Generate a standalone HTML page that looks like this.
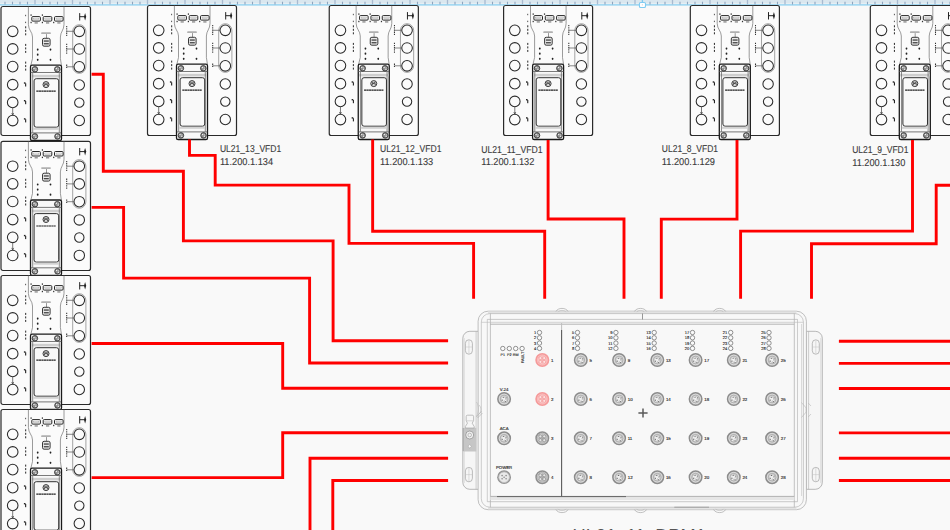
<!DOCTYPE html><html><head><meta charset="utf-8"><style>html,body{margin:0;padding:0;background:#f9f9f9;overflow:hidden}svg{display:block}text{font-family:"Liberation Sans",sans-serif}</style></head><body>
<svg width="950" height="530" viewBox="0 0 950 530">
<defs>
<g id="dev">
<path d="M26.9,0 V18 C26.9,23.5 31.0,25.5 31.0,30.5 V52 L29.4,58.6" fill="none" stroke="#666" stroke-width="0.65"/>
<path d="M62.5,0 V18 C62.5,23.5 58.9,25.5 58.9,30.5 V52 L59.9,58.6" fill="none" stroke="#666" stroke-width="0.65"/>
<rect x="30.3" y="10.1" width="8.6" height="4.5" rx="1.0" fill="#fafafa" stroke="#1a1a1a" stroke-width="0.95"/>
<rect x="31.900000000000002" y="11.7" width="5.4" height="1.3" fill="#ffffff" stroke="#9a9a9a" stroke-width="0.45"/>
<rect x="41.7" y="10.1" width="8.6" height="4.5" rx="1.0" fill="#fafafa" stroke="#1a1a1a" stroke-width="0.95"/>
<rect x="43.300000000000004" y="11.7" width="5.4" height="1.3" fill="#ffffff" stroke="#9a9a9a" stroke-width="0.45"/>
<rect x="53.0" y="10.1" width="8.6" height="4.5" rx="1.0" fill="#fafafa" stroke="#1a1a1a" stroke-width="0.95"/>
<rect x="54.6" y="11.7" width="5.4" height="1.3" fill="#ffffff" stroke="#9a9a9a" stroke-width="0.45"/>
<rect x="29.0" y="7.8999999999999995" width="1.2" height="1.4" fill="#333"/>
<rect x="29.0" y="15.3" width="1.2" height="1.4" fill="#333"/>
<rect x="40.3" y="7.8999999999999995" width="1.2" height="1.4" fill="#333"/>
<rect x="40.3" y="15.3" width="1.2" height="1.4" fill="#333"/>
<rect x="51.6" y="15.3" width="1.2" height="1.4" fill="#333"/>
<rect x="33.1" y="16.0" width="3.2" height="0.9" fill="#555"/>
<rect x="44.5" y="16.0" width="3.2" height="0.9" fill="#555"/>
<rect x="55.8" y="16.0" width="3.2" height="0.9" fill="#555"/>
<rect x="23.6" y="8.3" width="1.0" height="1.4" fill="#555"/>
<rect x="23.6" y="15.2" width="1.0" height="1.4" fill="#555"/>
<rect x="23.6" y="19.8" width="1.1" height="2.0" fill="#3a3a3a"/>
<rect x="23.6" y="23.3" width="1.1" height="2.0" fill="#3a3a3a"/>
<rect x="23.6" y="26.8" width="1.1" height="2.0" fill="#3a3a3a"/>
<rect x="23.6" y="37.4" width="1.1" height="2.0" fill="#3a3a3a"/>
<rect x="23.6" y="40.9" width="1.1" height="2.0" fill="#3a3a3a"/>
<rect x="23.6" y="44.4" width="1.1" height="2.0" fill="#3a3a3a"/>
<rect x="23.6" y="55.1" width="1.1" height="2.0" fill="#3a3a3a"/>
<rect x="23.6" y="58.6" width="1.1" height="2.0" fill="#3a3a3a"/>
<rect x="23.6" y="62.1" width="1.1" height="2.0" fill="#3a3a3a"/>
<rect x="22.4" y="75.8" width="1.6" height="1.4" fill="#222"/>
<rect x="23.6" y="76.8" width="1.1" height="3.2" fill="#222"/>
<rect x="22.4" y="93.5" width="1.6" height="1.4" fill="#222"/>
<rect x="23.6" y="94.5" width="1.1" height="3.2" fill="#222"/>
<rect x="22.4" y="111.69999999999999" width="1.6" height="1.4" fill="#222"/>
<rect x="23.6" y="112.69999999999999" width="1.1" height="3.2" fill="#222"/>
<rect x="39.6" y="25.8" width="9.8" height="1.8" rx="0.9" fill="#b0b0b0"/>
<rect x="44.5" y="27.6" width="0.6" height="4.2" fill="#555"/>
<rect x="41.0" y="31.8" width="7.6" height="7.9" rx="1.6" fill="#e8e8e8" stroke="#222" stroke-width="0.9"/>
<rect x="42.3" y="33.9" width="5.0" height="1.3" fill="#444"/>
<rect x="42.3" y="36.6" width="5.0" height="1.3" fill="#444"/>
<ellipse cx="36.2" cy="43.1" rx="0.9" ry="1.1" fill="#222"/>
<ellipse cx="36.2" cy="48.2" rx="0.9" ry="1.1" fill="#222"/>
<ellipse cx="36.2" cy="53.3" rx="0.9" ry="1.1" fill="#222"/>
<ellipse cx="49.0" cy="43.1" rx="0.9" ry="1.1" fill="#222"/>
<ellipse cx="49.0" cy="53.3" rx="0.9" ry="1.1" fill="#222"/>
<circle cx="11.2" cy="24.8" r="5.3" fill="none" stroke="#2a2a2a" stroke-width="1.05"/>
<circle cx="11.2" cy="42.4" r="5.3" fill="none" stroke="#2a2a2a" stroke-width="1.05"/>
<circle cx="11.2" cy="60.1" r="5.3" fill="none" stroke="#2a2a2a" stroke-width="1.05"/>
<circle cx="11.2" cy="78.2" r="5.3" fill="none" stroke="#2a2a2a" stroke-width="1.05"/>
<circle cx="11.2" cy="95.9" r="5.3" fill="none" stroke="#2a2a2a" stroke-width="1.05"/>
<circle cx="11.2" cy="114.1" r="5.3" fill="none" stroke="#2a2a2a" stroke-width="1.05"/>
<path d="M11.2,101.2 V108.8" stroke="#555" stroke-width="0.8"/>
<path d="M10.2,106.5 L11.2,108.6 L12.2,106.5" fill="none" stroke="#444" stroke-width="0.7"/>
<rect x="71.2" y="18.2" width="13.2" height="48.7" rx="6.6" fill="none" stroke="#9a9a9a" stroke-width="0.9"/>
<circle cx="77.8" cy="24.8" r="5.3" fill="#fbfbfb" stroke="#2a2a2a" stroke-width="1.05"/>
<circle cx="77.8" cy="42.5" r="5.3" fill="#fbfbfb" stroke="#2a2a2a" stroke-width="1.05"/>
<circle cx="77.8" cy="60.3" r="5.3" fill="#fbfbfb" stroke="#2a2a2a" stroke-width="1.05"/>
<circle cx="77.8" cy="78.5" r="5.2" fill="#fbfbfb" stroke="#2a2a2a" stroke-width="1.05"/>
<circle cx="77.8" cy="96.1" r="4.7" fill="#fbfbfb" stroke="#2a2a2a" stroke-width="1.05"/>
<circle cx="77.8" cy="114.0" r="5.2" fill="#fbfbfb" stroke="#2a2a2a" stroke-width="1.05"/>
<path d="M65.2,19.5 V30.1" fill="none" stroke="#333" stroke-width="1.05" stroke-dasharray="1.3,0.9"/>
<path d="M65.2,24.8 H72.5" fill="none" stroke="#555" stroke-width="0.7"/>
<path d="M65.2,37.2 V47.8" fill="none" stroke="#333" stroke-width="1.05" stroke-dasharray="1.3,0.9"/>
<path d="M65.2,42.5 H72.5" fill="none" stroke="#555" stroke-width="0.7"/>
<path d="M65.2,58.099999999999994 V62.5" fill="none" stroke="#333" stroke-width="1.05" stroke-dasharray="1.3,0.9"/>
<path d="M65.2,60.3 H72.5" fill="none" stroke="#555" stroke-width="0.7"/>
<path d="M78.2,6.6 V14.0 M78.2,10.2 H83.6" fill="none" stroke="#222" stroke-width="1.0"/>
<path d="M83.6,6.6 L84.7,10.2 L83.6,14.0 L82.5,10.2 Z" fill="#222"/>
<rect x="29.0" y="58.6" width="31.0" height="75.4" rx="1.6" fill="#f8f8f8" stroke="#1a1a1a" stroke-width="1.3"/>
<path d="M29.2,66.0 H59.8" stroke="#6a6a6a" stroke-width="0.9"/>
<rect x="29.8" y="68.3" width="29.4" height="2.6" fill="#cfcfcf"/>
<path d="M31.2,66.4 V126.2 M57.8,66.4 V126.2" stroke="#5a5a5a" stroke-width="0.7"/>
<rect x="32.6" y="72.2" width="24.6" height="48.5" rx="2.2" fill="#f9f9f9" stroke="#262626" stroke-width="0.95"/>
<rect x="31.6" y="121.3" width="25.8" height="2.0" fill="#d2d2d2"/>
<path d="M29.2,126.4 H59.8" stroke="#555" stroke-width="0.8"/>
<circle cx="33.4" cy="62.8" r="2.8" fill="#8c8c8c" stroke="#2a2a2a" stroke-width="0.8"/>
<circle cx="32.5" cy="61.9" r="0.75" fill="#eeeeee"/>
<circle cx="34.3" cy="63.699999999999996" r="0.75" fill="#eeeeee"/>
<circle cx="34.4" cy="62.0" r="0.5" fill="#c8c8c8"/>
<circle cx="55.8" cy="62.8" r="2.8" fill="#8c8c8c" stroke="#2a2a2a" stroke-width="0.8"/>
<circle cx="54.9" cy="61.9" r="0.75" fill="#eeeeee"/>
<circle cx="56.699999999999996" cy="63.699999999999996" r="0.75" fill="#eeeeee"/>
<circle cx="56.8" cy="62.0" r="0.5" fill="#c8c8c8"/>
<circle cx="33.4" cy="129.9" r="2.8" fill="#8c8c8c" stroke="#2a2a2a" stroke-width="0.8"/>
<circle cx="32.5" cy="129.0" r="0.75" fill="#eeeeee"/>
<circle cx="34.3" cy="130.8" r="0.75" fill="#eeeeee"/>
<circle cx="34.4" cy="129.1" r="0.5" fill="#c8c8c8"/>
<circle cx="56.0" cy="129.9" r="2.8" fill="#8c8c8c" stroke="#2a2a2a" stroke-width="0.8"/>
<circle cx="55.1" cy="129.0" r="0.75" fill="#eeeeee"/>
<circle cx="56.9" cy="130.8" r="0.75" fill="#eeeeee"/>
<circle cx="57.0" cy="129.1" r="0.5" fill="#c8c8c8"/>
<circle cx="44.5" cy="78.1" r="3.0" fill="#d5d5d5" stroke="#3a3a3a" stroke-width="1.0"/>
<path d="M42.9,79.6 L43.5,76.8 L44.5,78.5 L45.5,76.8 L46.1,79.6" fill="none" stroke="#222" stroke-width="0.7"/>
<path d="M34.8,84.6 H54.2" stroke="#222" stroke-width="1.1" stroke-dasharray="2.2,0.3"/>
</g>
</defs>
<rect width="950" height="530" fill="#f9f9f9"/>
<rect x="0" y="0" width="950" height="4.0" fill="#dae7ef"/>
<rect x="0" y="3.2" width="950" height="0.8" fill="#e9f0f4"/>
<rect x="0" y="4.0" width="950" height="1.7" fill="#a3d9f3"/>
<path d="M5.0,1.8 V4.6 M12.5,1.8 V4.6 M20.0,1.8 V4.6 M27.5,1.8 V4.6 M42.5,1.8 V4.6 M50.0,1.8 V4.6 M57.5,1.8 V4.6 M65.0,1.8 V4.6 M80.0,1.8 V4.6 M87.5,1.8 V4.6 M95.0,1.8 V4.6 M102.5,1.8 V4.6 M117.5,1.8 V4.6 M125.0,1.8 V4.6 M132.5,1.8 V4.6 M140.0,1.8 V4.6 M155.0,1.8 V4.6 M162.5,1.8 V4.6 M170.0,1.8 V4.6 M177.5,1.8 V4.6 M192.5,1.8 V4.6 M200.0,1.8 V4.6 M207.5,1.8 V4.6 M215.0,1.8 V4.6 M230.0,1.8 V4.6 M237.5,1.8 V4.6 M245.0,1.8 V4.6 M252.5,1.8 V4.6 M267.5,1.8 V4.6 M275.0,1.8 V4.6 M282.5,1.8 V4.6 M290.0,1.8 V4.6 M305.0,1.8 V4.6 M312.5,1.8 V4.6 M320.0,1.8 V4.6 M327.5,1.8 V4.6 M342.5,1.8 V4.6 M350.0,1.8 V4.6 M357.5,1.8 V4.6 M365.0,1.8 V4.6 M380.0,1.8 V4.6 M387.5,1.8 V4.6 M395.0,1.8 V4.6 M402.5,1.8 V4.6 M417.5,1.8 V4.6 M425.0,1.8 V4.6 M432.5,1.8 V4.6 M440.0,1.8 V4.6 M455.0,1.8 V4.6 M462.5,1.8 V4.6 M470.0,1.8 V4.6 M477.5,1.8 V4.6 M492.5,1.8 V4.6 M500.0,1.8 V4.6 M507.5,1.8 V4.6 M515.0,1.8 V4.6 M530.0,1.8 V4.6 M537.5,1.8 V4.6 M545.0,1.8 V4.6 M552.5,1.8 V4.6 M567.5,1.8 V4.6 M575.0,1.8 V4.6 M582.5,1.8 V4.6 M590.0,1.8 V4.6 M605.0,1.8 V4.6 M612.5,1.8 V4.6 M620.0,1.8 V4.6 M627.5,1.8 V4.6 M642.5,1.8 V4.6 M650.0,1.8 V4.6 M657.5,1.8 V4.6 M665.0,1.8 V4.6 M680.0,1.8 V4.6 M687.5,1.8 V4.6 M695.0,1.8 V4.6 M702.5,1.8 V4.6 M717.5,1.8 V4.6 M725.0,1.8 V4.6 M732.5,1.8 V4.6 M740.0,1.8 V4.6 M755.0,1.8 V4.6 M762.5,1.8 V4.6 M770.0,1.8 V4.6 M777.5,1.8 V4.6 M792.5,1.8 V4.6 M800.0,1.8 V4.6 M807.5,1.8 V4.6 M815.0,1.8 V4.6 M830.0,1.8 V4.6 M837.5,1.8 V4.6 M845.0,1.8 V4.6 M852.5,1.8 V4.6 M867.5,1.8 V4.6 M875.0,1.8 V4.6 M882.5,1.8 V4.6 M890.0,1.8 V4.6 M905.0,1.8 V4.6 M912.5,1.8 V4.6 M920.0,1.8 V4.6 M927.5,1.8 V4.6 M942.5,1.8 V4.6 M950.0,1.8 V4.6" stroke="#8ea5bf" stroke-width="1.1"/>
<path d="M35.0,0 V4.6 M72.5,0 V4.6 M110.0,0 V4.6 M147.5,0 V4.6 M185.0,0 V4.6 M222.5,0 V4.6 M260.0,0 V4.6 M297.5,0 V4.6 M335.0,0 V4.6 M372.5,0 V4.6 M410.0,0 V4.6 M447.5,0 V4.6 M485.0,0 V4.6 M522.5,0 V4.6 M560.0,0 V4.6 M597.5,0 V4.6 M635.0,0 V4.6 M672.5,0 V4.6 M710.0,0 V4.6 M747.5,0 V4.6 M785.0,0 V4.6 M822.5,0 V4.6 M860.0,0 V4.6 M897.5,0 V4.6 M935.0,0 V4.6" stroke="#a8bad0" stroke-width="1.3"/>
<path d="M642.4,0 V2.5" stroke="#7fcbf2" stroke-width="1.3"/>
<rect x="639.4" y="2.5" width="6.1" height="5.0" rx="1.3" fill="#ffffff" stroke="#7fcbf2" stroke-width="1.1"/>
<path d="M642.4,4.2 V5.4" stroke="#bbb" stroke-width="0.6"/>
<rect x="1.0" y="6.5" width="89.5" height="129.0" rx="2" fill="#fbfbfb" stroke="#2a2a2a" stroke-width="1.2"/>
<use href="#dev" x="1.5" y="6.5"/>
<rect x="1.0" y="141.4" width="89.5" height="129.1" rx="2" fill="#fbfbfb" stroke="#2a2a2a" stroke-width="1.2"/>
<use href="#dev" x="1.5" y="141.4"/>
<rect x="1.0" y="275.5" width="89.5" height="129.0" rx="2" fill="#fbfbfb" stroke="#2a2a2a" stroke-width="1.2"/>
<use href="#dev" x="1.5" y="275.5"/>
<rect x="1.0" y="409.5" width="89.5" height="129.0" rx="2" fill="#fbfbfb" stroke="#2a2a2a" stroke-width="1.2"/>
<use href="#dev" x="1.5" y="409.5"/>
<rect x="147.5" y="5.5" width="89.0" height="130.0" rx="2" fill="#fbfbfb" stroke="#2a2a2a" stroke-width="1.2"/>
<use href="#dev" x="147.5" y="5.5"/>
<rect x="329.25" y="5.5" width="89.1" height="130.0" rx="2" fill="#fbfbfb" stroke="#2a2a2a" stroke-width="1.2"/>
<use href="#dev" x="329.25" y="5.5"/>
<rect x="503.6" y="5.5" width="89.0" height="130.0" rx="2" fill="#fbfbfb" stroke="#2a2a2a" stroke-width="1.2"/>
<use href="#dev" x="503.6" y="5.5"/>
<rect x="690.3" y="5.5" width="89.1" height="130.0" rx="2" fill="#fbfbfb" stroke="#2a2a2a" stroke-width="1.2"/>
<use href="#dev" x="690.3" y="5.5"/>
<rect x="870.3" y="5.5" width="89.1" height="130.0" rx="2" fill="#fbfbfb" stroke="#2a2a2a" stroke-width="1.2"/>
<use href="#dev" x="870.3" y="5.5"/>
<text x="219.9" y="152.4" font-size="10.0" text-rendering="geometricPrecision" fill="#383838" stroke="#383838" stroke-width="0.1" textLength="61.4" lengthAdjust="spacingAndGlyphs">UL21_13_VFD1</text>
<text x="219.9" y="164.8" font-size="10.0" text-rendering="geometricPrecision" fill="#383838" stroke="#383838" stroke-width="0.1" textLength="53.2" lengthAdjust="spacingAndGlyphs">11.200.1.134</text>
<text x="380.0" y="152.4" font-size="10.0" text-rendering="geometricPrecision" fill="#383838" stroke="#383838" stroke-width="0.1" textLength="61.4" lengthAdjust="spacingAndGlyphs">UL21_12_VFD1</text>
<text x="380.0" y="164.8" font-size="10.0" text-rendering="geometricPrecision" fill="#383838" stroke="#383838" stroke-width="0.1" textLength="53.2" lengthAdjust="spacingAndGlyphs">11.200.1.133</text>
<text x="481.2" y="152.9" font-size="10.0" text-rendering="geometricPrecision" fill="#383838" stroke="#383838" stroke-width="0.1" textLength="61.4" lengthAdjust="spacingAndGlyphs">UL21_11_VFD1</text>
<text x="481.2" y="165.3" font-size="10.0" text-rendering="geometricPrecision" fill="#383838" stroke="#383838" stroke-width="0.1" textLength="53.2" lengthAdjust="spacingAndGlyphs">11.200.1.132</text>
<text x="661.8" y="152.4" font-size="10.0" text-rendering="geometricPrecision" fill="#383838" stroke="#383838" stroke-width="0.1" textLength="56.3" lengthAdjust="spacingAndGlyphs">UL21_8_VFD1</text>
<text x="661.8" y="164.8" font-size="10.0" text-rendering="geometricPrecision" fill="#383838" stroke="#383838" stroke-width="0.1" textLength="53.2" lengthAdjust="spacingAndGlyphs">11.200.1.129</text>
<text x="852.2" y="153.4" font-size="10.0" text-rendering="geometricPrecision" fill="#383838" stroke="#383838" stroke-width="0.1" textLength="56.3" lengthAdjust="spacingAndGlyphs">UL21_9_VFD1</text>
<text x="852.2" y="165.8" font-size="10.0" text-rendering="geometricPrecision" fill="#383838" stroke="#383838" stroke-width="0.1" textLength="53.2" lengthAdjust="spacingAndGlyphs">11.200.1.130</text>
<path d="M91.6,74.3 L103.3,74.3 L103.3,171.3 L183.4,171.3 L183.4,240.9 L333.1,240.9 L333.1,340.8 L448.1,340.8" fill="none" stroke="#ff0000" stroke-width="2.9" stroke-linejoin="miter"/>
<path d="M189.5,139.5 L189.5,155.4 L215.2,155.4 L215.2,185.1 L349.0,185.1 L349.0,243.4 L473.6,243.4 L473.6,298.7" fill="none" stroke="#ff0000" stroke-width="2.9" stroke-linejoin="miter"/>
<path d="M91.6,207.4 L123.6,207.4 L123.6,278.1 L309.6,278.1 L309.6,363.0 L448.1,363.0" fill="none" stroke="#ff0000" stroke-width="2.9" stroke-linejoin="miter"/>
<path d="M372.65,139.5 L372.65,231.3 L544.7,231.3 L544.7,298.7" fill="none" stroke="#ff0000" stroke-width="2.9" stroke-linejoin="miter"/>
<path d="M548.1,140 L548.1,219.0 L624.0,219.0 L624.0,298.7" fill="none" stroke="#ff0000" stroke-width="2.9" stroke-linejoin="miter"/>
<path d="M737.0,140 L737.0,219.1 L661.3,219.1 L661.3,298.7" fill="none" stroke="#ff0000" stroke-width="2.9" stroke-linejoin="miter"/>
<path d="M912.5,140 L912.5,231.1 L740.6,231.1 L740.6,298.7" fill="none" stroke="#ff0000" stroke-width="2.9" stroke-linejoin="miter"/>
<path d="M951,185.3 L936.2,185.3 L936.2,243.8 L811.5,243.8 L811.5,298.7" fill="none" stroke="#ff0000" stroke-width="2.9" stroke-linejoin="miter"/>
<path d="M91.6,343.5 L282.7,343.5 L282.7,388.3 L448.1,388.3" fill="none" stroke="#ff0000" stroke-width="2.9" stroke-linejoin="miter"/>
<path d="M91.6,477.6 L282.7,477.6 L282.7,432.7 L448.1,432.7" fill="none" stroke="#ff0000" stroke-width="2.9" stroke-linejoin="miter"/>
<path d="M310.0,531 L310.0,458.2 L448.1,458.2" fill="none" stroke="#ff0000" stroke-width="2.9" stroke-linejoin="miter"/>
<path d="M332.8,531 L332.8,480.5 L448.1,480.5" fill="none" stroke="#ff0000" stroke-width="2.9" stroke-linejoin="miter"/>
<path d="M838.9,341.2 L951,341.2" fill="none" stroke="#ff0000" stroke-width="2.9" stroke-linejoin="miter"/>
<path d="M838.9,363.4 L951,363.4" fill="none" stroke="#ff0000" stroke-width="2.9" stroke-linejoin="miter"/>
<path d="M838.9,388.5 L951,388.5" fill="none" stroke="#ff0000" stroke-width="2.9" stroke-linejoin="miter"/>
<path d="M838.9,432.9 L951,432.9" fill="none" stroke="#ff0000" stroke-width="2.9" stroke-linejoin="miter"/>
<path d="M838.9,458.3 L951,458.3" fill="none" stroke="#ff0000" stroke-width="2.9" stroke-linejoin="miter"/>
<path d="M838.9,480.5 L951,480.5" fill="none" stroke="#ff0000" stroke-width="2.9" stroke-linejoin="miter"/>
<path d="M478.5,331.3 H469.8 A7,7 0 0 0 462.8,338.3 V482.3 A7,7 0 0 0 469.8,489.3 H478.5 Z" fill="#f6f6f6" stroke="#a0a0a0" stroke-width="0.75"/>
<path d="M464.2,338 V483" fill="none" stroke="#c8c8c8" stroke-width="0.6"/>
<path d="M476.1,331.3 V489.3" fill="none" stroke="#b0b0b0" stroke-width="0.6"/>
<path d="M806.2,331.3 H815.3 A7,7 0 0 1 822.3,338.3 V482.3 A7,7 0 0 1 815.3,489.3 H806.2 Z" fill="#f6f6f6" stroke="#a0a0a0" stroke-width="0.75"/>
<path d="M820.8,338 V483" fill="none" stroke="#c8c8c8" stroke-width="0.6"/>
<path d="M808.6,331.3 V489.3" fill="none" stroke="#b0b0b0" stroke-width="0.6"/>
<rect x="465.4" y="339.8" width="7" height="14.4" rx="3.5" fill="none" stroke="#a0a0a0" stroke-width="0.7"/>
<path d="M465.59999999999997,347.0 H472.2 M468.9,340.5 V353.5" fill="none" stroke="#c0c0c0" stroke-width="0.5"/>
<rect x="465.4" y="467.40000000000003" width="7" height="14.4" rx="3.5" fill="none" stroke="#a0a0a0" stroke-width="0.7"/>
<path d="M465.59999999999997,474.6 H472.2 M468.9,468.1 V481.1" fill="none" stroke="#c0c0c0" stroke-width="0.5"/>
<rect x="812.3" y="339.8" width="7" height="14.4" rx="3.5" fill="none" stroke="#a0a0a0" stroke-width="0.7"/>
<path d="M812.5,347.0 H819.0999999999999 M815.8,340.5 V353.5" fill="none" stroke="#c0c0c0" stroke-width="0.5"/>
<rect x="812.3" y="467.40000000000003" width="7" height="14.4" rx="3.5" fill="none" stroke="#a0a0a0" stroke-width="0.7"/>
<path d="M812.5,474.6 H819.0999999999999 M815.8,468.1 V481.1" fill="none" stroke="#c0c0c0" stroke-width="0.5"/>
<path d="M488.1,311.2 H796.4 A10,10 0 0 1 806.4,321.2 V499.7 A10,10 0 0 1 796.4,509.7 H488.1 A10,10 0 0 1 478.1,499.7 V321.2 A10,10 0 0 1 488.1,311.2 Z" fill="#f8f8f8" stroke="#b0b0b0" stroke-width="0.8"/>
<rect x="488" y="311.5" width="308.5" height="2.1" fill="#e2e2e2"/>
<rect x="488" y="507.2" width="308.5" height="2.1" fill="#e4e4e4"/>
<path d="M489.8,313.6 H794.9 A8.5,8.5 0 0 1 803.4,322.1 V498.7 A8.5,8.5 0 0 1 794.9,507.2 H489.8 A8.5,8.5 0 0 1 481.3,498.7 V322.1 A8.5,8.5 0 0 1 489.8,313.6 Z" fill="none" stroke="#b8b8b8" stroke-width="0.7"/>
<path d="M490.4,313.6 V507.2 M794.3,313.6 V507.2" fill="none" stroke="#a6a6a6" stroke-width="0.65"/>
<path d="M487.3,319.3 V501.7 M797.5,319.3 V501.7" fill="none" stroke="#b0b0b0" stroke-width="0.6"/>
<path d="M487.3,319.4 H797.5 M487.3,501.7 H797.5" fill="none" stroke="#b0b0b0" stroke-width="0.65"/>
<path d="M481.3,322.3 H803.4" fill="none" stroke="#b8b8b8" stroke-width="0.6"/>
<rect x="490.4" y="496.4" width="303.9" height="3.6" fill="#e6e6e6"/>
<path d="M490.4,324.2 H794.3 M490.4,496.4 H794.3" fill="none" stroke="#9a9a9a" stroke-width="0.7"/>
<path d="M801.6,324 V496" fill="none" stroke="#c0c0c0" stroke-width="0.6"/>
<path d="M801.5,402.5 L806.2,408 V412 L801.5,417.5 M808.2,403 L811,406 M808.2,417 L811,414" fill="none" stroke="#b5b5b5" stroke-width="0.6"/>
<path d="M497,496.6 H626" fill="none" stroke="#5a5a5a" stroke-width="0.9"/>
<path d="M674.3,507.2 H709" fill="none" stroke="#8a8a8a" stroke-width="0.7"/>
<path d="M642.5,313.6 V319.4" fill="none" stroke="#555" stroke-width="0.6"/>
<path d="M556.0,311.4 C558.0,307.4 566.0,307.4 568.0,311.4" fill="none" stroke="#9a9a9a" stroke-width="0.6"/>
<path d="M558.0,312.2 C559.5,309.8 564.5,309.8 566.0,312.2" fill="none" stroke="#b0b0b0" stroke-width="0.5"/>
<path d="M556.0,509.6 C558.0,513.6 566.0,513.6 568.0,509.6" fill="none" stroke="#9a9a9a" stroke-width="0.6"/>
<path d="M558.0,508.8 C559.5,511.2 564.5,511.2 566.0,508.8" fill="none" stroke="#b0b0b0" stroke-width="0.5"/>
<path d="M634.5,311.4 C636.5,307.4 644.5,307.4 646.5,311.4" fill="none" stroke="#9a9a9a" stroke-width="0.6"/>
<path d="M636.5,312.2 C638.0,309.8 643.0,309.8 644.5,312.2" fill="none" stroke="#b0b0b0" stroke-width="0.5"/>
<path d="M634.5,509.6 C636.5,513.6 644.5,513.6 646.5,509.6" fill="none" stroke="#9a9a9a" stroke-width="0.6"/>
<path d="M636.5,508.8 C638.0,511.2 643.0,511.2 644.5,508.8" fill="none" stroke="#b0b0b0" stroke-width="0.5"/>
<path d="M713.6,311.4 C715.6,307.4 723.6,307.4 725.6,311.4" fill="none" stroke="#9a9a9a" stroke-width="0.6"/>
<path d="M715.6,312.2 C717.1,309.8 722.1,309.8 723.6,312.2" fill="none" stroke="#b0b0b0" stroke-width="0.5"/>
<path d="M713.6,509.6 C715.6,513.6 723.6,513.6 725.6,509.6" fill="none" stroke="#9a9a9a" stroke-width="0.6"/>
<path d="M715.6,508.8 C717.1,511.2 722.1,511.2 723.6,508.8" fill="none" stroke="#b0b0b0" stroke-width="0.5"/>
<path d="M561.6,323 V330" fill="none" stroke="#bdbdbd" stroke-width="1.0"/>
<path d="M561.6,330 V496.2" fill="none" stroke="#5a5a5a" stroke-width="1.1"/>
<rect x="462.6" y="427.9" width="13.7" height="23.6" fill="#c6c6c6"/>
<path d="M463.2,428 V451" fill="none" stroke="#999" stroke-width="0.6"/>
<path d="M466.2,416.5 Q466.2,415.2 467.5,415.2 H472.3 Q473.6,415.2 473.6,416.5 V420.5 L472.2,423.2 L474.2,426.5 V428 H465.4 V426.5 L467.4,423.2 L466.2,420.5 Z" fill="#f6f6f6" stroke="#9a9a9a" stroke-width="0.6"/>
<path d="M466.4,420.8 H473.4" fill="none" stroke="#b5b5b5" stroke-width="0.5"/>
<circle cx="469.7" cy="435" r="4.0" fill="#f0f0f0" stroke="#8a8a8a" stroke-width="0.7"/>
<circle cx="469.7" cy="435" r="1.8" fill="none" stroke="#9a9a9a" stroke-width="0.6"/>
<path d="M469.7,444.6 L471.5,446.3 L469.7,448 L467.9,446.3 Z" fill="#fafafa" stroke="#999" stroke-width="0.5"/>
<path d="M476.3,417 L481.5,411.5 M477.5,418 L482.5,413" fill="none" stroke="#aaa" stroke-width="0.6"/>
<path d="M476.5,402 C479,405 479,413 476.5,416 M479,405 C481.5,407 481.5,412 479,414" fill="none" stroke="#b8b8b8" stroke-width="0.6"/>
<circle cx="539.5" cy="332.5" r="2.2" fill="#fafafa" stroke="#5a5a5a" stroke-width="0.65"/>
<text x="536.2" y="334.0" font-size="4.1" fill="#222" stroke="#222" stroke-width="0.12" text-anchor="end" text-rendering="geometricPrecision">1</text>
<circle cx="539.5" cy="337.8" r="2.2" fill="#fafafa" stroke="#5a5a5a" stroke-width="0.65"/>
<text x="536.2" y="339.3" font-size="4.1" fill="#222" stroke="#222" stroke-width="0.12" text-anchor="end" text-rendering="geometricPrecision">2</text>
<circle cx="539.5" cy="343.1" r="2.2" fill="#fafafa" stroke="#5a5a5a" stroke-width="0.65"/>
<text x="536.2" y="344.6" font-size="4.1" fill="#222" stroke="#222" stroke-width="0.12" text-anchor="end" text-rendering="geometricPrecision">3</text>
<circle cx="539.5" cy="348.4" r="2.2" fill="#fafafa" stroke="#5a5a5a" stroke-width="0.65"/>
<text x="536.2" y="349.9" font-size="4.1" fill="#222" stroke="#222" stroke-width="0.12" text-anchor="end" text-rendering="geometricPrecision">4</text>
<circle cx="577.5" cy="332.5" r="2.2" fill="#fafafa" stroke="#5a5a5a" stroke-width="0.65"/>
<text x="574.2" y="334.0" font-size="4.1" fill="#222" stroke="#222" stroke-width="0.12" text-anchor="end" text-rendering="geometricPrecision">5</text>
<circle cx="577.5" cy="337.8" r="2.2" fill="#fafafa" stroke="#5a5a5a" stroke-width="0.65"/>
<text x="574.2" y="339.3" font-size="4.1" fill="#222" stroke="#222" stroke-width="0.12" text-anchor="end" text-rendering="geometricPrecision">6</text>
<circle cx="577.5" cy="343.1" r="2.2" fill="#fafafa" stroke="#5a5a5a" stroke-width="0.65"/>
<text x="574.2" y="344.6" font-size="4.1" fill="#222" stroke="#222" stroke-width="0.12" text-anchor="end" text-rendering="geometricPrecision">7</text>
<circle cx="577.5" cy="348.4" r="2.2" fill="#fafafa" stroke="#5a5a5a" stroke-width="0.65"/>
<text x="574.2" y="349.9" font-size="4.1" fill="#222" stroke="#222" stroke-width="0.12" text-anchor="end" text-rendering="geometricPrecision">8</text>
<circle cx="615.9" cy="332.5" r="2.2" fill="#fafafa" stroke="#5a5a5a" stroke-width="0.65"/>
<text x="612.6" y="334.0" font-size="4.1" fill="#222" stroke="#222" stroke-width="0.12" text-anchor="end" text-rendering="geometricPrecision">9</text>
<circle cx="615.9" cy="337.8" r="2.2" fill="#fafafa" stroke="#5a5a5a" stroke-width="0.65"/>
<text x="612.6" y="339.3" font-size="4.1" fill="#222" stroke="#222" stroke-width="0.12" text-anchor="end" text-rendering="geometricPrecision">10</text>
<circle cx="615.9" cy="343.1" r="2.2" fill="#fafafa" stroke="#5a5a5a" stroke-width="0.65"/>
<text x="612.6" y="344.6" font-size="4.1" fill="#222" stroke="#222" stroke-width="0.12" text-anchor="end" text-rendering="geometricPrecision">11</text>
<circle cx="615.9" cy="348.4" r="2.2" fill="#fafafa" stroke="#5a5a5a" stroke-width="0.65"/>
<text x="612.6" y="349.9" font-size="4.1" fill="#222" stroke="#222" stroke-width="0.12" text-anchor="end" text-rendering="geometricPrecision">12</text>
<circle cx="654.2" cy="332.5" r="2.2" fill="#fafafa" stroke="#5a5a5a" stroke-width="0.65"/>
<text x="650.9000000000001" y="334.0" font-size="4.1" fill="#222" stroke="#222" stroke-width="0.12" text-anchor="end" text-rendering="geometricPrecision">13</text>
<circle cx="654.2" cy="337.8" r="2.2" fill="#fafafa" stroke="#5a5a5a" stroke-width="0.65"/>
<text x="650.9000000000001" y="339.3" font-size="4.1" fill="#222" stroke="#222" stroke-width="0.12" text-anchor="end" text-rendering="geometricPrecision">14</text>
<circle cx="654.2" cy="343.1" r="2.2" fill="#fafafa" stroke="#5a5a5a" stroke-width="0.65"/>
<text x="650.9000000000001" y="344.6" font-size="4.1" fill="#222" stroke="#222" stroke-width="0.12" text-anchor="end" text-rendering="geometricPrecision">15</text>
<circle cx="654.2" cy="348.4" r="2.2" fill="#fafafa" stroke="#5a5a5a" stroke-width="0.65"/>
<text x="650.9000000000001" y="349.9" font-size="4.1" fill="#222" stroke="#222" stroke-width="0.12" text-anchor="end" text-rendering="geometricPrecision">16</text>
<circle cx="692.5" cy="332.5" r="2.2" fill="#fafafa" stroke="#5a5a5a" stroke-width="0.65"/>
<text x="689.2" y="334.0" font-size="4.1" fill="#222" stroke="#222" stroke-width="0.12" text-anchor="end" text-rendering="geometricPrecision">17</text>
<circle cx="692.5" cy="337.8" r="2.2" fill="#fafafa" stroke="#5a5a5a" stroke-width="0.65"/>
<text x="689.2" y="339.3" font-size="4.1" fill="#222" stroke="#222" stroke-width="0.12" text-anchor="end" text-rendering="geometricPrecision">18</text>
<circle cx="692.5" cy="343.1" r="2.2" fill="#fafafa" stroke="#5a5a5a" stroke-width="0.65"/>
<text x="689.2" y="344.6" font-size="4.1" fill="#222" stroke="#222" stroke-width="0.12" text-anchor="end" text-rendering="geometricPrecision">19</text>
<circle cx="692.5" cy="348.4" r="2.2" fill="#fafafa" stroke="#5a5a5a" stroke-width="0.65"/>
<text x="689.2" y="349.9" font-size="4.1" fill="#222" stroke="#222" stroke-width="0.12" text-anchor="end" text-rendering="geometricPrecision">20</text>
<circle cx="730.7" cy="332.5" r="2.2" fill="#fafafa" stroke="#5a5a5a" stroke-width="0.65"/>
<text x="727.4000000000001" y="334.0" font-size="4.1" fill="#222" stroke="#222" stroke-width="0.12" text-anchor="end" text-rendering="geometricPrecision">21</text>
<circle cx="730.7" cy="337.8" r="2.2" fill="#fafafa" stroke="#5a5a5a" stroke-width="0.65"/>
<text x="727.4000000000001" y="339.3" font-size="4.1" fill="#222" stroke="#222" stroke-width="0.12" text-anchor="end" text-rendering="geometricPrecision">22</text>
<circle cx="730.7" cy="343.1" r="2.2" fill="#fafafa" stroke="#5a5a5a" stroke-width="0.65"/>
<text x="727.4000000000001" y="344.6" font-size="4.1" fill="#222" stroke="#222" stroke-width="0.12" text-anchor="end" text-rendering="geometricPrecision">23</text>
<circle cx="730.7" cy="348.4" r="2.2" fill="#fafafa" stroke="#5a5a5a" stroke-width="0.65"/>
<text x="727.4000000000001" y="349.9" font-size="4.1" fill="#222" stroke="#222" stroke-width="0.12" text-anchor="end" text-rendering="geometricPrecision">24</text>
<circle cx="769.0" cy="332.5" r="2.2" fill="#fafafa" stroke="#5a5a5a" stroke-width="0.65"/>
<text x="765.7" y="334.0" font-size="4.1" fill="#222" stroke="#222" stroke-width="0.12" text-anchor="end" text-rendering="geometricPrecision">25</text>
<circle cx="769.0" cy="337.8" r="2.2" fill="#fafafa" stroke="#5a5a5a" stroke-width="0.65"/>
<text x="765.7" y="339.3" font-size="4.1" fill="#222" stroke="#222" stroke-width="0.12" text-anchor="end" text-rendering="geometricPrecision">26</text>
<circle cx="769.0" cy="343.1" r="2.2" fill="#fafafa" stroke="#5a5a5a" stroke-width="0.65"/>
<text x="765.7" y="344.6" font-size="4.1" fill="#222" stroke="#222" stroke-width="0.12" text-anchor="end" text-rendering="geometricPrecision">27</text>
<circle cx="769.0" cy="348.4" r="2.2" fill="#fafafa" stroke="#5a5a5a" stroke-width="0.65"/>
<text x="765.7" y="349.9" font-size="4.1" fill="#222" stroke="#222" stroke-width="0.12" text-anchor="end" text-rendering="geometricPrecision">28</text>
<circle cx="502.8" cy="348.5" r="2.2" fill="#fafafa" stroke="#5a5a5a" stroke-width="0.65"/>
<text x="502.8" y="356.2" font-size="3.7" fill="#222" stroke="#222" stroke-width="0.12" text-anchor="middle" text-rendering="geometricPrecision">P1</text>
<circle cx="509.3" cy="348.5" r="2.2" fill="#fafafa" stroke="#5a5a5a" stroke-width="0.65"/>
<text x="509.3" y="356.2" font-size="3.7" fill="#222" stroke="#222" stroke-width="0.12" text-anchor="middle" text-rendering="geometricPrecision">P2</text>
<circle cx="515.7" cy="348.5" r="2.2" fill="#fafafa" stroke="#5a5a5a" stroke-width="0.65"/>
<text x="515.7" y="356.2" font-size="3.7" fill="#222" stroke="#222" stroke-width="0.12" text-anchor="middle" text-rendering="geometricPrecision">RM</text>
<circle cx="522.1" cy="348.5" r="2.2" fill="#fafafa" stroke="#5a5a5a" stroke-width="0.65"/>
<text x="0" y="0" font-size="3.9" fill="#222" stroke="#222" stroke-width="0.12" text-anchor="start" text-rendering="geometricPrecision" transform="translate(523.6,363.2) rotate(-90)">FAULT</text>
<circle cx="542.3" cy="360.0" r="6.25" fill="#fbc4c4" stroke="#f59a9a" stroke-width="1.6"/>
<circle cx="542.3" cy="360.0" r="4.6" fill="#fcd4d4" stroke="#f6a6a6" stroke-width="0.6"/>
<circle cx="540.4" cy="358.1" r="1.5" fill="#fde2e2" stroke="#f08888" stroke-width="0.55"/>
<circle cx="544.1999999999999" cy="358.1" r="1.5" fill="#fde2e2" stroke="#f08888" stroke-width="0.55"/>
<circle cx="540.4" cy="361.9" r="1.5" fill="#fde2e2" stroke="#f08888" stroke-width="0.55"/>
<circle cx="544.1999999999999" cy="361.9" r="1.5" fill="#fde2e2" stroke="#f08888" stroke-width="0.55"/>
<path d="M538.3,360.0 H546.3 M542.3,356.0 V364.0" stroke="#f4a0a0" stroke-width="0.55"/>
<text x="550.9" y="361.6" font-size="4.4" fill="#222" stroke="#222" stroke-width="0.12" text-rendering="geometricPrecision">1</text>
<circle cx="542.3" cy="399.0" r="6.25" fill="#fbc4c4" stroke="#f59a9a" stroke-width="1.6"/>
<circle cx="542.3" cy="399.0" r="4.6" fill="#fcd4d4" stroke="#f6a6a6" stroke-width="0.6"/>
<circle cx="540.4" cy="397.1" r="1.5" fill="#fde2e2" stroke="#f08888" stroke-width="0.55"/>
<circle cx="544.1999999999999" cy="397.1" r="1.5" fill="#fde2e2" stroke="#f08888" stroke-width="0.55"/>
<circle cx="540.4" cy="400.9" r="1.5" fill="#fde2e2" stroke="#f08888" stroke-width="0.55"/>
<circle cx="544.1999999999999" cy="400.9" r="1.5" fill="#fde2e2" stroke="#f08888" stroke-width="0.55"/>
<path d="M538.3,399.0 H546.3 M542.3,395.0 V403.0" stroke="#f4a0a0" stroke-width="0.55"/>
<text x="550.9" y="400.6" font-size="4.4" fill="#222" stroke="#222" stroke-width="0.12" text-rendering="geometricPrecision">2</text>
<circle cx="542.3" cy="438.3" r="6.25" fill="#d8d8d8" stroke="#8f8f8f" stroke-width="1.5"/>
<circle cx="542.3" cy="438.3" r="4.7" fill="#e2e2e2" stroke="#a0a0a0" stroke-width="0.7"/>
<circle cx="540.4" cy="436.40000000000003" r="1.5" fill="#e6e6e6" stroke="#777" stroke-width="0.55"/>
<circle cx="544.1999999999999" cy="436.40000000000003" r="1.5" fill="#e6e6e6" stroke="#777" stroke-width="0.55"/>
<circle cx="540.4" cy="440.2" r="1.5" fill="#e6e6e6" stroke="#777" stroke-width="0.55"/>
<circle cx="544.1999999999999" cy="440.2" r="1.5" fill="#e6e6e6" stroke="#777" stroke-width="0.55"/>
<path d="M538.0999999999999,438.3 H546.5 M542.3,434.1 V442.5" stroke="#8a8a8a" stroke-width="0.55"/>
<text x="550.9" y="439.90000000000003" font-size="4.4" fill="#222" stroke="#222" stroke-width="0.12" text-rendering="geometricPrecision">3</text>
<circle cx="542.3" cy="477.2" r="6.25" fill="#d8d8d8" stroke="#8f8f8f" stroke-width="1.5"/>
<circle cx="542.3" cy="477.2" r="4.7" fill="#e2e2e2" stroke="#a0a0a0" stroke-width="0.7"/>
<circle cx="540.4" cy="475.3" r="1.5" fill="#e6e6e6" stroke="#777" stroke-width="0.55"/>
<circle cx="544.1999999999999" cy="475.3" r="1.5" fill="#e6e6e6" stroke="#777" stroke-width="0.55"/>
<circle cx="540.4" cy="479.09999999999997" r="1.5" fill="#e6e6e6" stroke="#777" stroke-width="0.55"/>
<circle cx="544.1999999999999" cy="479.09999999999997" r="1.5" fill="#e6e6e6" stroke="#777" stroke-width="0.55"/>
<path d="M538.0999999999999,477.2 H546.5 M542.3,473.0 V481.4" stroke="#8a8a8a" stroke-width="0.55"/>
<text x="550.9" y="478.8" font-size="4.4" fill="#222" stroke="#222" stroke-width="0.12" text-rendering="geometricPrecision">4</text>
<circle cx="580.8" cy="360.0" r="6.25" fill="#d0d0d0" stroke="#8c8c8c" stroke-width="1.5"/>
<circle cx="580.8" cy="360.0" r="4.75" fill="#c9c9c9" stroke="#e4e4e4" stroke-width="0.6"/>
<circle cx="580.8" cy="360.0" r="3.9" fill="#cdcdcd" stroke="#a0a0a0" stroke-width="0.6"/>
<path d="M578.1999999999999,359.0 L580.5999999999999,360.2 L582.5999999999999,357.8 M580.5999999999999,360.2 L579.3,362.7 M580.5999999999999,360.2 L583.0,362.0 M580.5999999999999,360.2 L579.8,357.4" fill="none" stroke="#f4f4f4" stroke-width="1.0"/>
<circle cx="582.6999999999999" cy="358.8" r="0.55" fill="#6a6a6a"/>
<circle cx="578.9" cy="361.3" r="0.55" fill="#6a6a6a"/>
<circle cx="582.0999999999999" cy="362.5" r="0.55" fill="#6a6a6a"/>
<circle cx="580.1999999999999" cy="358.2" r="0.55" fill="#6a6a6a"/>
<text x="589.4" y="361.6" font-size="4.4" fill="#222" stroke="#222" stroke-width="0.12" text-rendering="geometricPrecision">5</text>
<circle cx="580.8" cy="399.0" r="6.25" fill="#d0d0d0" stroke="#8c8c8c" stroke-width="1.5"/>
<circle cx="580.8" cy="399.0" r="4.75" fill="#c9c9c9" stroke="#e4e4e4" stroke-width="0.6"/>
<circle cx="580.8" cy="399.0" r="3.9" fill="#cdcdcd" stroke="#a0a0a0" stroke-width="0.6"/>
<path d="M578.1999999999999,398.0 L580.5999999999999,399.2 L582.5999999999999,396.8 M580.5999999999999,399.2 L579.3,401.7 M580.5999999999999,399.2 L583.0,401.0 M580.5999999999999,399.2 L579.8,396.4" fill="none" stroke="#f4f4f4" stroke-width="1.0"/>
<circle cx="582.6999999999999" cy="397.8" r="0.55" fill="#6a6a6a"/>
<circle cx="578.9" cy="400.3" r="0.55" fill="#6a6a6a"/>
<circle cx="582.0999999999999" cy="401.5" r="0.55" fill="#6a6a6a"/>
<circle cx="580.1999999999999" cy="397.2" r="0.55" fill="#6a6a6a"/>
<text x="589.4" y="400.6" font-size="4.4" fill="#222" stroke="#222" stroke-width="0.12" text-rendering="geometricPrecision">6</text>
<circle cx="580.8" cy="438.3" r="6.25" fill="#d0d0d0" stroke="#8c8c8c" stroke-width="1.5"/>
<circle cx="580.8" cy="438.3" r="4.75" fill="#c9c9c9" stroke="#e4e4e4" stroke-width="0.6"/>
<circle cx="580.8" cy="438.3" r="3.9" fill="#cdcdcd" stroke="#a0a0a0" stroke-width="0.6"/>
<path d="M578.1999999999999,437.3 L580.5999999999999,438.5 L582.5999999999999,436.1 M580.5999999999999,438.5 L579.3,441.0 M580.5999999999999,438.5 L583.0,440.3 M580.5999999999999,438.5 L579.8,435.7" fill="none" stroke="#f4f4f4" stroke-width="1.0"/>
<circle cx="582.6999999999999" cy="437.1" r="0.55" fill="#6a6a6a"/>
<circle cx="578.9" cy="439.6" r="0.55" fill="#6a6a6a"/>
<circle cx="582.0999999999999" cy="440.8" r="0.55" fill="#6a6a6a"/>
<circle cx="580.1999999999999" cy="436.5" r="0.55" fill="#6a6a6a"/>
<text x="589.4" y="439.90000000000003" font-size="4.4" fill="#222" stroke="#222" stroke-width="0.12" text-rendering="geometricPrecision">7</text>
<circle cx="580.8" cy="477.2" r="6.25" fill="#d0d0d0" stroke="#8c8c8c" stroke-width="1.5"/>
<circle cx="580.8" cy="477.2" r="4.75" fill="#c9c9c9" stroke="#e4e4e4" stroke-width="0.6"/>
<circle cx="580.8" cy="477.2" r="3.9" fill="#cdcdcd" stroke="#a0a0a0" stroke-width="0.6"/>
<path d="M578.1999999999999,476.2 L580.5999999999999,477.4 L582.5999999999999,475.0 M580.5999999999999,477.4 L579.3,479.9 M580.5999999999999,477.4 L583.0,479.2 M580.5999999999999,477.4 L579.8,474.59999999999997" fill="none" stroke="#f4f4f4" stroke-width="1.0"/>
<circle cx="582.6999999999999" cy="476.0" r="0.55" fill="#6a6a6a"/>
<circle cx="578.9" cy="478.5" r="0.55" fill="#6a6a6a"/>
<circle cx="582.0999999999999" cy="479.7" r="0.55" fill="#6a6a6a"/>
<circle cx="580.1999999999999" cy="475.4" r="0.55" fill="#6a6a6a"/>
<text x="589.4" y="478.8" font-size="4.4" fill="#222" stroke="#222" stroke-width="0.12" text-rendering="geometricPrecision">8</text>
<circle cx="619.1" cy="360.0" r="6.25" fill="#d0d0d0" stroke="#8c8c8c" stroke-width="1.5"/>
<circle cx="619.1" cy="360.0" r="4.75" fill="#c9c9c9" stroke="#e4e4e4" stroke-width="0.6"/>
<circle cx="619.1" cy="360.0" r="3.9" fill="#cdcdcd" stroke="#a0a0a0" stroke-width="0.6"/>
<path d="M616.5,359.0 L618.9,360.2 L620.9,357.8 M618.9,360.2 L617.6,362.7 M618.9,360.2 L621.3000000000001,362.0 M618.9,360.2 L618.1,357.4" fill="none" stroke="#f4f4f4" stroke-width="1.0"/>
<circle cx="621.0" cy="358.8" r="0.55" fill="#6a6a6a"/>
<circle cx="617.2" cy="361.3" r="0.55" fill="#6a6a6a"/>
<circle cx="620.4" cy="362.5" r="0.55" fill="#6a6a6a"/>
<circle cx="618.5" cy="358.2" r="0.55" fill="#6a6a6a"/>
<text x="627.7" y="361.6" font-size="4.4" fill="#222" stroke="#222" stroke-width="0.12" text-rendering="geometricPrecision">9</text>
<circle cx="619.1" cy="399.0" r="6.25" fill="#d0d0d0" stroke="#8c8c8c" stroke-width="1.5"/>
<circle cx="619.1" cy="399.0" r="4.75" fill="#c9c9c9" stroke="#e4e4e4" stroke-width="0.6"/>
<circle cx="619.1" cy="399.0" r="3.9" fill="#cdcdcd" stroke="#a0a0a0" stroke-width="0.6"/>
<path d="M616.5,398.0 L618.9,399.2 L620.9,396.8 M618.9,399.2 L617.6,401.7 M618.9,399.2 L621.3000000000001,401.0 M618.9,399.2 L618.1,396.4" fill="none" stroke="#f4f4f4" stroke-width="1.0"/>
<circle cx="621.0" cy="397.8" r="0.55" fill="#6a6a6a"/>
<circle cx="617.2" cy="400.3" r="0.55" fill="#6a6a6a"/>
<circle cx="620.4" cy="401.5" r="0.55" fill="#6a6a6a"/>
<circle cx="618.5" cy="397.2" r="0.55" fill="#6a6a6a"/>
<text x="627.7" y="400.6" font-size="4.4" fill="#222" stroke="#222" stroke-width="0.12" text-rendering="geometricPrecision">10</text>
<circle cx="619.1" cy="438.3" r="6.25" fill="#d0d0d0" stroke="#8c8c8c" stroke-width="1.5"/>
<circle cx="619.1" cy="438.3" r="4.75" fill="#c9c9c9" stroke="#e4e4e4" stroke-width="0.6"/>
<circle cx="619.1" cy="438.3" r="3.9" fill="#cdcdcd" stroke="#a0a0a0" stroke-width="0.6"/>
<path d="M616.5,437.3 L618.9,438.5 L620.9,436.1 M618.9,438.5 L617.6,441.0 M618.9,438.5 L621.3000000000001,440.3 M618.9,438.5 L618.1,435.7" fill="none" stroke="#f4f4f4" stroke-width="1.0"/>
<circle cx="621.0" cy="437.1" r="0.55" fill="#6a6a6a"/>
<circle cx="617.2" cy="439.6" r="0.55" fill="#6a6a6a"/>
<circle cx="620.4" cy="440.8" r="0.55" fill="#6a6a6a"/>
<circle cx="618.5" cy="436.5" r="0.55" fill="#6a6a6a"/>
<text x="627.7" y="439.90000000000003" font-size="4.4" fill="#222" stroke="#222" stroke-width="0.12" text-rendering="geometricPrecision">11</text>
<circle cx="619.1" cy="477.2" r="6.25" fill="#d0d0d0" stroke="#8c8c8c" stroke-width="1.5"/>
<circle cx="619.1" cy="477.2" r="4.75" fill="#c9c9c9" stroke="#e4e4e4" stroke-width="0.6"/>
<circle cx="619.1" cy="477.2" r="3.9" fill="#cdcdcd" stroke="#a0a0a0" stroke-width="0.6"/>
<path d="M616.5,476.2 L618.9,477.4 L620.9,475.0 M618.9,477.4 L617.6,479.9 M618.9,477.4 L621.3000000000001,479.2 M618.9,477.4 L618.1,474.59999999999997" fill="none" stroke="#f4f4f4" stroke-width="1.0"/>
<circle cx="621.0" cy="476.0" r="0.55" fill="#6a6a6a"/>
<circle cx="617.2" cy="478.5" r="0.55" fill="#6a6a6a"/>
<circle cx="620.4" cy="479.7" r="0.55" fill="#6a6a6a"/>
<circle cx="618.5" cy="475.4" r="0.55" fill="#6a6a6a"/>
<text x="627.7" y="478.8" font-size="4.4" fill="#222" stroke="#222" stroke-width="0.12" text-rendering="geometricPrecision">12</text>
<circle cx="657.3" cy="360.0" r="6.25" fill="#d0d0d0" stroke="#8c8c8c" stroke-width="1.5"/>
<circle cx="657.3" cy="360.0" r="4.75" fill="#c9c9c9" stroke="#e4e4e4" stroke-width="0.6"/>
<circle cx="657.3" cy="360.0" r="3.9" fill="#cdcdcd" stroke="#a0a0a0" stroke-width="0.6"/>
<path d="M654.6999999999999,359.0 L657.0999999999999,360.2 L659.0999999999999,357.8 M657.0999999999999,360.2 L655.8,362.7 M657.0999999999999,360.2 L659.5,362.0 M657.0999999999999,360.2 L656.3,357.4" fill="none" stroke="#f4f4f4" stroke-width="1.0"/>
<circle cx="659.1999999999999" cy="358.8" r="0.55" fill="#6a6a6a"/>
<circle cx="655.4" cy="361.3" r="0.55" fill="#6a6a6a"/>
<circle cx="658.5999999999999" cy="362.5" r="0.55" fill="#6a6a6a"/>
<circle cx="656.6999999999999" cy="358.2" r="0.55" fill="#6a6a6a"/>
<text x="665.9" y="361.6" font-size="4.4" fill="#222" stroke="#222" stroke-width="0.12" text-rendering="geometricPrecision">13</text>
<circle cx="657.3" cy="399.0" r="6.25" fill="#d0d0d0" stroke="#8c8c8c" stroke-width="1.5"/>
<circle cx="657.3" cy="399.0" r="4.75" fill="#c9c9c9" stroke="#e4e4e4" stroke-width="0.6"/>
<circle cx="657.3" cy="399.0" r="3.9" fill="#cdcdcd" stroke="#a0a0a0" stroke-width="0.6"/>
<path d="M654.6999999999999,398.0 L657.0999999999999,399.2 L659.0999999999999,396.8 M657.0999999999999,399.2 L655.8,401.7 M657.0999999999999,399.2 L659.5,401.0 M657.0999999999999,399.2 L656.3,396.4" fill="none" stroke="#f4f4f4" stroke-width="1.0"/>
<circle cx="659.1999999999999" cy="397.8" r="0.55" fill="#6a6a6a"/>
<circle cx="655.4" cy="400.3" r="0.55" fill="#6a6a6a"/>
<circle cx="658.5999999999999" cy="401.5" r="0.55" fill="#6a6a6a"/>
<circle cx="656.6999999999999" cy="397.2" r="0.55" fill="#6a6a6a"/>
<text x="665.9" y="400.6" font-size="4.4" fill="#222" stroke="#222" stroke-width="0.12" text-rendering="geometricPrecision">14</text>
<circle cx="657.3" cy="438.3" r="6.25" fill="#d0d0d0" stroke="#8c8c8c" stroke-width="1.5"/>
<circle cx="657.3" cy="438.3" r="4.75" fill="#c9c9c9" stroke="#e4e4e4" stroke-width="0.6"/>
<circle cx="657.3" cy="438.3" r="3.9" fill="#cdcdcd" stroke="#a0a0a0" stroke-width="0.6"/>
<path d="M654.6999999999999,437.3 L657.0999999999999,438.5 L659.0999999999999,436.1 M657.0999999999999,438.5 L655.8,441.0 M657.0999999999999,438.5 L659.5,440.3 M657.0999999999999,438.5 L656.3,435.7" fill="none" stroke="#f4f4f4" stroke-width="1.0"/>
<circle cx="659.1999999999999" cy="437.1" r="0.55" fill="#6a6a6a"/>
<circle cx="655.4" cy="439.6" r="0.55" fill="#6a6a6a"/>
<circle cx="658.5999999999999" cy="440.8" r="0.55" fill="#6a6a6a"/>
<circle cx="656.6999999999999" cy="436.5" r="0.55" fill="#6a6a6a"/>
<text x="665.9" y="439.90000000000003" font-size="4.4" fill="#222" stroke="#222" stroke-width="0.12" text-rendering="geometricPrecision">15</text>
<circle cx="657.3" cy="477.2" r="6.25" fill="#d0d0d0" stroke="#8c8c8c" stroke-width="1.5"/>
<circle cx="657.3" cy="477.2" r="4.75" fill="#c9c9c9" stroke="#e4e4e4" stroke-width="0.6"/>
<circle cx="657.3" cy="477.2" r="3.9" fill="#cdcdcd" stroke="#a0a0a0" stroke-width="0.6"/>
<path d="M654.6999999999999,476.2 L657.0999999999999,477.4 L659.0999999999999,475.0 M657.0999999999999,477.4 L655.8,479.9 M657.0999999999999,477.4 L659.5,479.2 M657.0999999999999,477.4 L656.3,474.59999999999997" fill="none" stroke="#f4f4f4" stroke-width="1.0"/>
<circle cx="659.1999999999999" cy="476.0" r="0.55" fill="#6a6a6a"/>
<circle cx="655.4" cy="478.5" r="0.55" fill="#6a6a6a"/>
<circle cx="658.5999999999999" cy="479.7" r="0.55" fill="#6a6a6a"/>
<circle cx="656.6999999999999" cy="475.4" r="0.55" fill="#6a6a6a"/>
<text x="665.9" y="478.8" font-size="4.4" fill="#222" stroke="#222" stroke-width="0.12" text-rendering="geometricPrecision">16</text>
<circle cx="695.6" cy="360.0" r="6.25" fill="#d0d0d0" stroke="#8c8c8c" stroke-width="1.5"/>
<circle cx="695.6" cy="360.0" r="4.75" fill="#c9c9c9" stroke="#e4e4e4" stroke-width="0.6"/>
<circle cx="695.6" cy="360.0" r="3.9" fill="#cdcdcd" stroke="#a0a0a0" stroke-width="0.6"/>
<path d="M693.0,359.0 L695.4,360.2 L697.4,357.8 M695.4,360.2 L694.1,362.7 M695.4,360.2 L697.8000000000001,362.0 M695.4,360.2 L694.6,357.4" fill="none" stroke="#f4f4f4" stroke-width="1.0"/>
<circle cx="697.5" cy="358.8" r="0.55" fill="#6a6a6a"/>
<circle cx="693.7" cy="361.3" r="0.55" fill="#6a6a6a"/>
<circle cx="696.9" cy="362.5" r="0.55" fill="#6a6a6a"/>
<circle cx="695.0" cy="358.2" r="0.55" fill="#6a6a6a"/>
<text x="704.2" y="361.6" font-size="4.4" fill="#222" stroke="#222" stroke-width="0.12" text-rendering="geometricPrecision">17</text>
<circle cx="695.6" cy="399.0" r="6.25" fill="#d0d0d0" stroke="#8c8c8c" stroke-width="1.5"/>
<circle cx="695.6" cy="399.0" r="4.75" fill="#c9c9c9" stroke="#e4e4e4" stroke-width="0.6"/>
<circle cx="695.6" cy="399.0" r="3.9" fill="#cdcdcd" stroke="#a0a0a0" stroke-width="0.6"/>
<path d="M693.0,398.0 L695.4,399.2 L697.4,396.8 M695.4,399.2 L694.1,401.7 M695.4,399.2 L697.8000000000001,401.0 M695.4,399.2 L694.6,396.4" fill="none" stroke="#f4f4f4" stroke-width="1.0"/>
<circle cx="697.5" cy="397.8" r="0.55" fill="#6a6a6a"/>
<circle cx="693.7" cy="400.3" r="0.55" fill="#6a6a6a"/>
<circle cx="696.9" cy="401.5" r="0.55" fill="#6a6a6a"/>
<circle cx="695.0" cy="397.2" r="0.55" fill="#6a6a6a"/>
<text x="704.2" y="400.6" font-size="4.4" fill="#222" stroke="#222" stroke-width="0.12" text-rendering="geometricPrecision">18</text>
<circle cx="695.6" cy="438.3" r="6.25" fill="#d0d0d0" stroke="#8c8c8c" stroke-width="1.5"/>
<circle cx="695.6" cy="438.3" r="4.75" fill="#c9c9c9" stroke="#e4e4e4" stroke-width="0.6"/>
<circle cx="695.6" cy="438.3" r="3.9" fill="#cdcdcd" stroke="#a0a0a0" stroke-width="0.6"/>
<path d="M693.0,437.3 L695.4,438.5 L697.4,436.1 M695.4,438.5 L694.1,441.0 M695.4,438.5 L697.8000000000001,440.3 M695.4,438.5 L694.6,435.7" fill="none" stroke="#f4f4f4" stroke-width="1.0"/>
<circle cx="697.5" cy="437.1" r="0.55" fill="#6a6a6a"/>
<circle cx="693.7" cy="439.6" r="0.55" fill="#6a6a6a"/>
<circle cx="696.9" cy="440.8" r="0.55" fill="#6a6a6a"/>
<circle cx="695.0" cy="436.5" r="0.55" fill="#6a6a6a"/>
<text x="704.2" y="439.90000000000003" font-size="4.4" fill="#222" stroke="#222" stroke-width="0.12" text-rendering="geometricPrecision">19</text>
<circle cx="695.6" cy="477.2" r="6.25" fill="#d0d0d0" stroke="#8c8c8c" stroke-width="1.5"/>
<circle cx="695.6" cy="477.2" r="4.75" fill="#c9c9c9" stroke="#e4e4e4" stroke-width="0.6"/>
<circle cx="695.6" cy="477.2" r="3.9" fill="#cdcdcd" stroke="#a0a0a0" stroke-width="0.6"/>
<path d="M693.0,476.2 L695.4,477.4 L697.4,475.0 M695.4,477.4 L694.1,479.9 M695.4,477.4 L697.8000000000001,479.2 M695.4,477.4 L694.6,474.59999999999997" fill="none" stroke="#f4f4f4" stroke-width="1.0"/>
<circle cx="697.5" cy="476.0" r="0.55" fill="#6a6a6a"/>
<circle cx="693.7" cy="478.5" r="0.55" fill="#6a6a6a"/>
<circle cx="696.9" cy="479.7" r="0.55" fill="#6a6a6a"/>
<circle cx="695.0" cy="475.4" r="0.55" fill="#6a6a6a"/>
<text x="704.2" y="478.8" font-size="4.4" fill="#222" stroke="#222" stroke-width="0.12" text-rendering="geometricPrecision">20</text>
<circle cx="733.8" cy="360.0" r="6.25" fill="#d0d0d0" stroke="#8c8c8c" stroke-width="1.5"/>
<circle cx="733.8" cy="360.0" r="4.75" fill="#c9c9c9" stroke="#e4e4e4" stroke-width="0.6"/>
<circle cx="733.8" cy="360.0" r="3.9" fill="#cdcdcd" stroke="#a0a0a0" stroke-width="0.6"/>
<path d="M731.1999999999999,359.0 L733.5999999999999,360.2 L735.5999999999999,357.8 M733.5999999999999,360.2 L732.3,362.7 M733.5999999999999,360.2 L736.0,362.0 M733.5999999999999,360.2 L732.8,357.4" fill="none" stroke="#f4f4f4" stroke-width="1.0"/>
<circle cx="735.6999999999999" cy="358.8" r="0.55" fill="#6a6a6a"/>
<circle cx="731.9" cy="361.3" r="0.55" fill="#6a6a6a"/>
<circle cx="735.0999999999999" cy="362.5" r="0.55" fill="#6a6a6a"/>
<circle cx="733.1999999999999" cy="358.2" r="0.55" fill="#6a6a6a"/>
<text x="742.4" y="361.6" font-size="4.4" fill="#222" stroke="#222" stroke-width="0.12" text-rendering="geometricPrecision">21</text>
<circle cx="733.8" cy="399.0" r="6.25" fill="#d0d0d0" stroke="#8c8c8c" stroke-width="1.5"/>
<circle cx="733.8" cy="399.0" r="4.75" fill="#c9c9c9" stroke="#e4e4e4" stroke-width="0.6"/>
<circle cx="733.8" cy="399.0" r="3.9" fill="#cdcdcd" stroke="#a0a0a0" stroke-width="0.6"/>
<path d="M731.1999999999999,398.0 L733.5999999999999,399.2 L735.5999999999999,396.8 M733.5999999999999,399.2 L732.3,401.7 M733.5999999999999,399.2 L736.0,401.0 M733.5999999999999,399.2 L732.8,396.4" fill="none" stroke="#f4f4f4" stroke-width="1.0"/>
<circle cx="735.6999999999999" cy="397.8" r="0.55" fill="#6a6a6a"/>
<circle cx="731.9" cy="400.3" r="0.55" fill="#6a6a6a"/>
<circle cx="735.0999999999999" cy="401.5" r="0.55" fill="#6a6a6a"/>
<circle cx="733.1999999999999" cy="397.2" r="0.55" fill="#6a6a6a"/>
<text x="742.4" y="400.6" font-size="4.4" fill="#222" stroke="#222" stroke-width="0.12" text-rendering="geometricPrecision">22</text>
<circle cx="733.8" cy="438.3" r="6.25" fill="#d0d0d0" stroke="#8c8c8c" stroke-width="1.5"/>
<circle cx="733.8" cy="438.3" r="4.75" fill="#c9c9c9" stroke="#e4e4e4" stroke-width="0.6"/>
<circle cx="733.8" cy="438.3" r="3.9" fill="#cdcdcd" stroke="#a0a0a0" stroke-width="0.6"/>
<path d="M731.1999999999999,437.3 L733.5999999999999,438.5 L735.5999999999999,436.1 M733.5999999999999,438.5 L732.3,441.0 M733.5999999999999,438.5 L736.0,440.3 M733.5999999999999,438.5 L732.8,435.7" fill="none" stroke="#f4f4f4" stroke-width="1.0"/>
<circle cx="735.6999999999999" cy="437.1" r="0.55" fill="#6a6a6a"/>
<circle cx="731.9" cy="439.6" r="0.55" fill="#6a6a6a"/>
<circle cx="735.0999999999999" cy="440.8" r="0.55" fill="#6a6a6a"/>
<circle cx="733.1999999999999" cy="436.5" r="0.55" fill="#6a6a6a"/>
<text x="742.4" y="439.90000000000003" font-size="4.4" fill="#222" stroke="#222" stroke-width="0.12" text-rendering="geometricPrecision">23</text>
<circle cx="733.8" cy="477.2" r="6.25" fill="#d0d0d0" stroke="#8c8c8c" stroke-width="1.5"/>
<circle cx="733.8" cy="477.2" r="4.75" fill="#c9c9c9" stroke="#e4e4e4" stroke-width="0.6"/>
<circle cx="733.8" cy="477.2" r="3.9" fill="#cdcdcd" stroke="#a0a0a0" stroke-width="0.6"/>
<path d="M731.1999999999999,476.2 L733.5999999999999,477.4 L735.5999999999999,475.0 M733.5999999999999,477.4 L732.3,479.9 M733.5999999999999,477.4 L736.0,479.2 M733.5999999999999,477.4 L732.8,474.59999999999997" fill="none" stroke="#f4f4f4" stroke-width="1.0"/>
<circle cx="735.6999999999999" cy="476.0" r="0.55" fill="#6a6a6a"/>
<circle cx="731.9" cy="478.5" r="0.55" fill="#6a6a6a"/>
<circle cx="735.0999999999999" cy="479.7" r="0.55" fill="#6a6a6a"/>
<circle cx="733.1999999999999" cy="475.4" r="0.55" fill="#6a6a6a"/>
<text x="742.4" y="478.8" font-size="4.4" fill="#222" stroke="#222" stroke-width="0.12" text-rendering="geometricPrecision">24</text>
<circle cx="772.1" cy="360.0" r="6.25" fill="#d0d0d0" stroke="#8c8c8c" stroke-width="1.5"/>
<circle cx="772.1" cy="360.0" r="4.75" fill="#c9c9c9" stroke="#e4e4e4" stroke-width="0.6"/>
<circle cx="772.1" cy="360.0" r="3.9" fill="#cdcdcd" stroke="#a0a0a0" stroke-width="0.6"/>
<path d="M769.5,359.0 L771.9,360.2 L773.9,357.8 M771.9,360.2 L770.6,362.7 M771.9,360.2 L774.3000000000001,362.0 M771.9,360.2 L771.1,357.4" fill="none" stroke="#f4f4f4" stroke-width="1.0"/>
<circle cx="774.0" cy="358.8" r="0.55" fill="#6a6a6a"/>
<circle cx="770.2" cy="361.3" r="0.55" fill="#6a6a6a"/>
<circle cx="773.4" cy="362.5" r="0.55" fill="#6a6a6a"/>
<circle cx="771.5" cy="358.2" r="0.55" fill="#6a6a6a"/>
<text x="780.7" y="361.6" font-size="4.4" fill="#222" stroke="#222" stroke-width="0.12" text-rendering="geometricPrecision">25</text>
<circle cx="772.1" cy="399.0" r="6.25" fill="#d0d0d0" stroke="#8c8c8c" stroke-width="1.5"/>
<circle cx="772.1" cy="399.0" r="4.75" fill="#c9c9c9" stroke="#e4e4e4" stroke-width="0.6"/>
<circle cx="772.1" cy="399.0" r="3.9" fill="#cdcdcd" stroke="#a0a0a0" stroke-width="0.6"/>
<path d="M769.5,398.0 L771.9,399.2 L773.9,396.8 M771.9,399.2 L770.6,401.7 M771.9,399.2 L774.3000000000001,401.0 M771.9,399.2 L771.1,396.4" fill="none" stroke="#f4f4f4" stroke-width="1.0"/>
<circle cx="774.0" cy="397.8" r="0.55" fill="#6a6a6a"/>
<circle cx="770.2" cy="400.3" r="0.55" fill="#6a6a6a"/>
<circle cx="773.4" cy="401.5" r="0.55" fill="#6a6a6a"/>
<circle cx="771.5" cy="397.2" r="0.55" fill="#6a6a6a"/>
<text x="780.7" y="400.6" font-size="4.4" fill="#222" stroke="#222" stroke-width="0.12" text-rendering="geometricPrecision">26</text>
<circle cx="772.1" cy="438.3" r="6.25" fill="#d0d0d0" stroke="#8c8c8c" stroke-width="1.5"/>
<circle cx="772.1" cy="438.3" r="4.75" fill="#c9c9c9" stroke="#e4e4e4" stroke-width="0.6"/>
<circle cx="772.1" cy="438.3" r="3.9" fill="#cdcdcd" stroke="#a0a0a0" stroke-width="0.6"/>
<path d="M769.5,437.3 L771.9,438.5 L773.9,436.1 M771.9,438.5 L770.6,441.0 M771.9,438.5 L774.3000000000001,440.3 M771.9,438.5 L771.1,435.7" fill="none" stroke="#f4f4f4" stroke-width="1.0"/>
<circle cx="774.0" cy="437.1" r="0.55" fill="#6a6a6a"/>
<circle cx="770.2" cy="439.6" r="0.55" fill="#6a6a6a"/>
<circle cx="773.4" cy="440.8" r="0.55" fill="#6a6a6a"/>
<circle cx="771.5" cy="436.5" r="0.55" fill="#6a6a6a"/>
<text x="780.7" y="439.90000000000003" font-size="4.4" fill="#222" stroke="#222" stroke-width="0.12" text-rendering="geometricPrecision">27</text>
<circle cx="772.1" cy="477.2" r="6.25" fill="#d0d0d0" stroke="#8c8c8c" stroke-width="1.5"/>
<circle cx="772.1" cy="477.2" r="4.75" fill="#c9c9c9" stroke="#e4e4e4" stroke-width="0.6"/>
<circle cx="772.1" cy="477.2" r="3.9" fill="#cdcdcd" stroke="#a0a0a0" stroke-width="0.6"/>
<path d="M769.5,476.2 L771.9,477.4 L773.9,475.0 M771.9,477.4 L770.6,479.9 M771.9,477.4 L774.3000000000001,479.2 M771.9,477.4 L771.1,474.59999999999997" fill="none" stroke="#f4f4f4" stroke-width="1.0"/>
<circle cx="774.0" cy="476.0" r="0.55" fill="#6a6a6a"/>
<circle cx="770.2" cy="478.5" r="0.55" fill="#6a6a6a"/>
<circle cx="773.4" cy="479.7" r="0.55" fill="#6a6a6a"/>
<circle cx="771.5" cy="475.4" r="0.55" fill="#6a6a6a"/>
<text x="780.7" y="478.8" font-size="4.4" fill="#222" stroke="#222" stroke-width="0.12" text-rendering="geometricPrecision">28</text>
<circle cx="504.1" cy="399.0" r="6.25" fill="#d0d0d0" stroke="#8c8c8c" stroke-width="1.5"/>
<circle cx="504.1" cy="399.0" r="4.75" fill="#c9c9c9" stroke="#e4e4e4" stroke-width="0.6"/>
<circle cx="504.1" cy="399.0" r="3.9" fill="#cdcdcd" stroke="#a0a0a0" stroke-width="0.6"/>
<path d="M501.5,398.0 L503.90000000000003,399.2 L505.90000000000003,396.8 M503.90000000000003,399.2 L502.6,401.7 M503.90000000000003,399.2 L506.3,401.0 M503.90000000000003,399.2 L503.1,396.4" fill="none" stroke="#f4f4f4" stroke-width="1.0"/>
<circle cx="506.0" cy="397.8" r="0.55" fill="#6a6a6a"/>
<circle cx="502.20000000000005" cy="400.3" r="0.55" fill="#6a6a6a"/>
<circle cx="505.40000000000003" cy="401.5" r="0.55" fill="#6a6a6a"/>
<circle cx="503.5" cy="397.2" r="0.55" fill="#6a6a6a"/>
<circle cx="504.1" cy="438.3" r="6.25" fill="#d0d0d0" stroke="#8c8c8c" stroke-width="1.5"/>
<circle cx="504.1" cy="438.3" r="4.75" fill="#c9c9c9" stroke="#e4e4e4" stroke-width="0.6"/>
<circle cx="504.1" cy="438.3" r="3.9" fill="#cdcdcd" stroke="#a0a0a0" stroke-width="0.6"/>
<path d="M501.5,437.3 L503.90000000000003,438.5 L505.90000000000003,436.1 M503.90000000000003,438.5 L502.6,441.0 M503.90000000000003,438.5 L506.3,440.3 M503.90000000000003,438.5 L503.1,435.7" fill="none" stroke="#f4f4f4" stroke-width="1.0"/>
<circle cx="506.0" cy="437.1" r="0.55" fill="#6a6a6a"/>
<circle cx="502.20000000000005" cy="439.6" r="0.55" fill="#6a6a6a"/>
<circle cx="505.40000000000003" cy="440.8" r="0.55" fill="#6a6a6a"/>
<circle cx="503.5" cy="436.5" r="0.55" fill="#6a6a6a"/>
<circle cx="504.1" cy="477.2" r="6.9" fill="#939393"/>
<circle cx="504.1" cy="477.2" r="5.3" fill="#e9e9e9" stroke="#c4c4c4" stroke-width="0.7"/>
<circle cx="502.1" cy="475.59999999999997" r="0.8" fill="#888"/>
<circle cx="506.1" cy="475.59999999999997" r="0.8" fill="#888"/>
<circle cx="504.1" cy="477.2" r="0.8" fill="#888"/>
<circle cx="502.1" cy="478.8" r="0.8" fill="#888"/>
<circle cx="506.1" cy="478.8" r="0.8" fill="#888"/>
<text x="504.1" y="390.8" font-size="4.3" fill="#222" stroke="#222" stroke-width="0.12" text-anchor="middle" text-rendering="geometricPrecision">V.24</text>
<text x="504.1" y="430.1" font-size="4.3" fill="#222" stroke="#222" stroke-width="0.12" text-anchor="middle" text-rendering="geometricPrecision">ACA</text>
<text x="504.1" y="469.0" font-size="4.3" fill="#222" stroke="#222" stroke-width="0.12" text-anchor="middle" text-rendering="geometricPrecision">POWER</text>
<path d="M638.4,413 H647.6 M643,408.4 V417.6" fill="none" stroke="#5a5a5a" stroke-width="1.5"/>
<text x="572.6" y="542" font-size="18" fill="#555" textLength="133.2" lengthAdjust="spacingAndGlyphs">UL21_11_DPM1</text>
</svg></body></html>
